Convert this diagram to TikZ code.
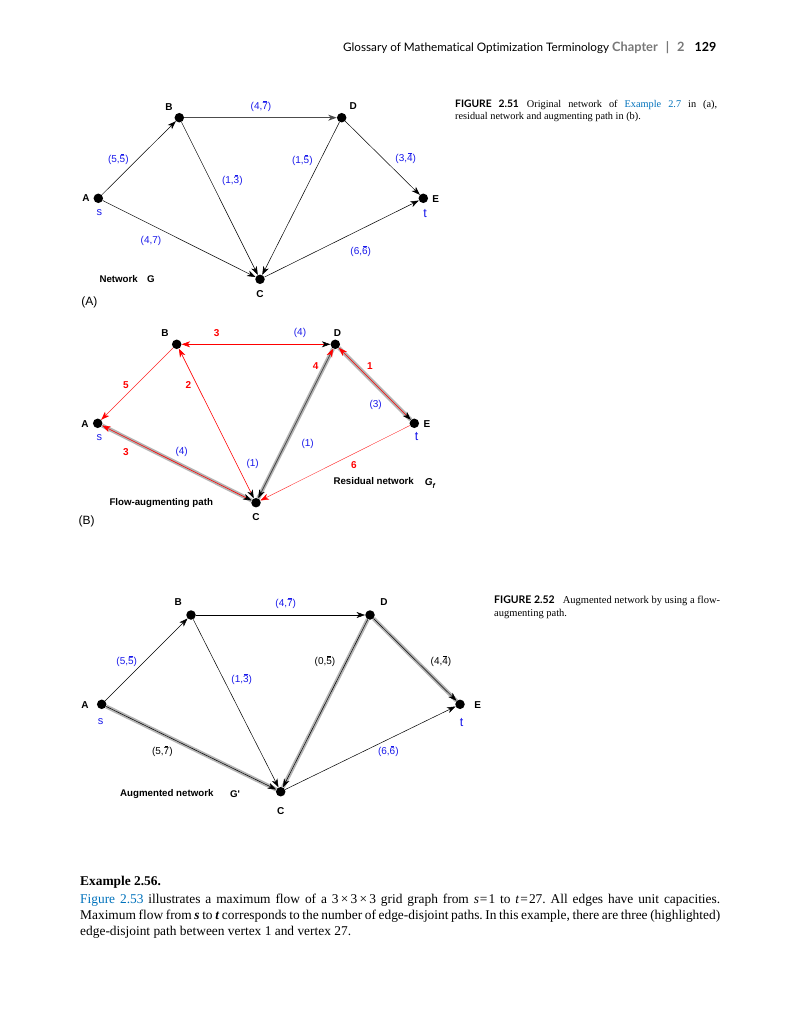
\documentclass[tikz,border=0pt]{standalone}
\usepackage{fontspec}
\setmainfont{Liberation Serif}
\newfontfamily\gsans{Liberation Sans}
\newfontfamily\hfont[Ligatures=NoCommon]{Lato}
\usetikzlibrary{arrows.meta}
\definecolor{linkblue}{RGB}{0,114,188}
\definecolor{lblue}{RGB}{25,25,235}
\definecolor{hlgray}{RGB}{180,180,180}
\definecolor{hdrgray}{RGB}{120,120,120}
\newcommand\ob[1]{\leavevmode\setbox0\hbox{#1}\rlap{\hspace{0.15\wd0}\raisebox{\dimexpr\ht0+1.2pt\relax}{\rule{0.7\wd0}{0.45pt}}}\box0}
\tikzset{
  dot/.style={circle, fill=black, inner sep=0pt, minimum size=9.5pt},
  vlab/.style={font=\gsans\bfseries\fontsize{10}{12}\selectfont, inner sep=0pt},
  elab/.style={font=\gsans\fontsize{10}{12}\selectfont, text=lblue, inner sep=0pt},
  elabk/.style={elab, text=black},
  rlab/.style={font=\gsans\bfseries\fontsize{10}{12}\selectfont, text=red, inner sep=0pt},
  stlab/.style={font=\gsans\fontsize{11}{12}\selectfont, text=lblue, inner sep=0pt},
  ttlab/.style={font=\gsans\fontsize{12.5}{14}\selectfont, text=lblue, inner sep=0pt},
  tlab/.style={font=\gsans\bfseries\fontsize{9.7}{11}\selectfont, inner sep=0pt},
  panel/.style={font=\gsans\fontsize{12}{14}\selectfont, inner sep=0pt},
  edge/.style={draw=black, line width=0.5pt, ->},
  hl/.style={draw=hlgray, line width=4pt},
  redthin/.style={draw=red!85, line width=0.4pt},
  redline/.style={draw=red, line width=0.6pt}
}
\begin{document}
\begin{tikzpicture}[x=1pt,y=-1pt,>={Stealth[length=8.5pt,width=6pt,inset=2.5pt]}]
\useasboundingbox[fill=white] (0,0) rectangle (800,1024);

% ---------- header ----------
\node[anchor=base west, inner sep=0pt, font=\hfont\fontsize{11.7}{13}\selectfont] (hdr) at (343,52)
  {Glossary of Mathematical Optimization Terminology\hspace{3pt}{\color{hdrgray}\fontsize{12.8}{14}\selectfont\bfseries Chapter\hspace{8pt}|\hspace{8pt}2}\hspace{10pt}{\fontsize{12.5}{14}\selectfont\bfseries 129}};

% ---------- captions ----------
\node[anchor=north west, inner sep=0pt, text width=262pt, align=justify, font=\fontsize{10.3}{11.7}\selectfont] (cap1) at (455,100)
  {{\hfont\bfseries FIGURE 2.51}\hspace{8pt}Original network of {\color{linkblue}Example 2.7} in (a),\linebreak residual network and augmenting path in (b).};
\node[anchor=north west, inner sep=0pt, text width=226pt, align=justify, font=\fontsize{10.5}{12.6}\selectfont] (cap2) at (494,596)
  {{\hfont\bfseries FIGURE 2.52}\hspace{8pt}Augmented network by using a flow-\linebreak augmenting path.};

% ---------- body text ----------
\node[anchor=base west, inner sep=0pt, font=\bfseries\fontsize{13.4}{16}\selectfont] (ex) at (80,885.5) {Example 2.56.};
\node[anchor=north west, inner sep=0pt, text width=640pt, align=justify, font=\frenchspacing\fontsize{13.4}{16}\selectfont] (body) at (80,893.5)
  {{\color{linkblue}Figure 2.53} illustrates a maximum flow of a 3\,×\,3\,×\,3 grid graph from \textit{s}\kern1pt=\kern1pt1 to \textit{t}\kern1pt=\kern1pt27. All edges have unit capacities.\linebreak
   Maximum flow from \textbf{\textit{s}} to \textbf{\textit{t}} corresponds to the number of edge-disjoint paths. In this example, there are three (highlighted)\linebreak
   edge-disjoint path between vertex 1 and vertex 27.};

% =============== Graph (A) ===============
\node[dot] (a1) at (98.3,198.3) {};
\node[dot] (b1) at (179.3,117.7) {};
\node[dot] (d1) at (341.7,117.7) {};
\node[dot] (e1) at (423.3,198.3) {};
\node[dot] (c1) at (260,279.3) {};
\draw[edge] (a1) -- (b1);
\draw[edge, draw=black!70, line width=0.9pt] (b1) -- (d1);
\draw[edge] (b1) -- (c1);
\draw[edge] (d1) -- (c1);
\draw[edge] (d1) -- (e1);
\draw[edge] (a1) -- (c1);
\draw[edge] (c1) -- (e1);
\node[vlab] (la1) at (86,198.3) {A};
\node[vlab] (lb1) at (169,106.7) {B};
\node[vlab] (ld1) at (353.3,106) {D};
\node[vlab] (le1) at (435.7,199) {E};
\node[vlab] (lc1) at (260,294) {C};
\node[stlab] (s1) at (99.3,212.5) {s};
\node[ttlab] (t1) at (425,213.5) {t};
\node[elab] (l1bd) at (261,106) {(4,\ob{7})};
\node[elab] (l1ab) at (118.3,159.5) {(5,\ob{5})};
\node[elab] (l1bc) at (232.3,180) {(1,\ob{3})};
\node[elab] (l1dc) at (302.3,160) {(1,\ob{5})};
\node[elab] (l1de) at (405.7,158.5) {(3,\ob{4})};
\node[elab] (l1ac) at (151,241) {(4,7)};
\node[elab] (l1ce) at (360.7,251) {(6,\ob{6})};
\node[tlab, anchor=west] (n1) at (99.3,278.7) {Network};
\node[tlab] (g1) at (150.8,278.7) {G};
\node[panel] (pa) at (89.3,302) {(A)};

% =============== Graph (B) ===============
\node[dot] (a2) at (97.7,423.3) {};
\node[dot] (b2) at (176.7,344.3) {};
\node[dot] (d2) at (335.3,344.3) {};
\node[dot] (e2) at (414.3,423.3) {};
\node[dot] (c2) at (256,502.7) {};
\draw[hl] (a2) -- (c2);
\draw[hl] (c2) -- (d2);
\draw[hl] (d2) -- (e2);
\draw[redline, {Stealth[length=8.5pt,width=6pt,inset=2.5pt,color=red]}-{Stealth[length=8.5pt,width=6pt,inset=2.5pt,color=black]}] (b2) -- (d2);
\draw[redthin, -{Stealth[length=8.5pt,width=6pt,inset=2.5pt,color=red]}] (b2) -- (a2);
\draw[redline, {Stealth[length=8.5pt,width=6pt,inset=2.5pt,color=black]}-{Stealth[length=8.5pt,width=6pt,inset=2.5pt,color=red]}] (c2) -- (b2);
\draw[redline, {Stealth[length=8.5pt,width=6pt,inset=2.5pt,color=black]}-{Stealth[length=8.5pt,width=6pt,inset=2.5pt,color=red]}] (c2) -- (a2);
\draw[draw=black!75, line width=0.7pt, {Stealth[length=8.5pt,width=6pt,inset=2.5pt,color=black]}-{Stealth[length=8.5pt,width=6pt,inset=2.5pt,color=red]}] (c2) -- (d2);
\draw[redline, {Stealth[length=8.5pt,width=6pt,inset=2.5pt,color=black]}-{Stealth[length=8.5pt,width=6pt,inset=2.5pt,color=red]}] (e2) -- (d2);
\draw[redthin, -{Stealth[length=8.5pt,width=6pt,inset=2.5pt,color=red]}] (e2) -- (c2);
\node[vlab] (la2) at (85,424.5) {A};
\node[vlab] (lb2) at (165,333.3) {B};
\node[vlab] (ld2) at (337.5,333.3) {D};
\node[vlab] (le2) at (427,424.5) {E};
\node[vlab] (lc2) at (256,516.7) {C};
\node[stlab] (s2) at (99.3,438) {s};
\node[ttlab] (t2) at (416.7,437) {t};
\node[rlab] (r2bd) at (216.7,333.3) {3};
\node[elab] (f2bd) at (300,333.3) {(4)};
\node[rlab] (r2ba) at (126,385.3) {5};
\node[rlab] (r2bc) at (188.3,385.3) {2};
\node[rlab] (r2cd) at (315.7,365.7) {4};
\node[rlab] (r2de) at (370,365.7) {1};
\node[elab] (f2de) at (375.7,405.3) {(3)};
\node[rlab] (r2ac) at (126,451.7) {3};
\node[elab] (f2ac) at (181.7,451.7) {(4)};
\node[elab] (f2bc) at (252.7,464) {(1)};
\node[elab] (f2cd) at (307.7,444.3) {(1)};
\node[rlab] (r2ec) at (354,465) {6};
\node[tlab] (rn) at (373.7,480.7) {Residual network};
\node[tlab, font=\gsans\bfseries\itshape\fontsize{10}{12}\selectfont] (gf) at (430,483.3) {G\raisebox{-2.5pt}{\fontsize{7}{8}\selectfont f}};
\node[tlab, anchor=west] (fap) at (109.3,502.7) {Flow-augmenting path};
\node[panel] (pb) at (86.7,521.7) {(B)};

% =============== Graph (C) ===============
\node[dot] (a3) at (101.7,704.3) {};
\node[dot] (b3) at (191,615) {};
\node[dot] (d3) at (370,615) {};
\node[dot] (e3) at (460,704.3) {};
\node[dot] (c3) at (280.7,791.7) {};
\draw[hl] (a3) -- (c3);
\draw[hl] (d3) -- (c3);
\draw[hl] (d3) -- (e3);
\draw[edge] (a3) -- (b3);
\draw[edge] (b3) -- (d3);
\draw[edge] (b3) -- (c3);
\draw[edge] (d3) -- (c3);
\draw[edge] (d3) -- (e3);
\draw[edge] (a3) -- (c3);
\draw[edge] (c3) -- (e3);
\node[vlab] (la3) at (85,705) {A};
\node[vlab] (lb3) at (178.3,601.7) {B};
\node[vlab] (ld3) at (384,601.7) {D};
\node[vlab] (le3) at (477.7,705) {E};
\node[vlab] (lc3) at (280.7,810.7) {C};
\node[stlab] (s3) at (100.7,721.7) {s};
\node[ttlab] (t3) at (461.7,722.3) {t};
\node[elab] (l3bd) at (285.7,603.5) {(4,\ob{7})};
\node[elab] (l3ab) at (126.7,661) {(5,\ob{5})};
\node[elab] (l3bc) at (241.7,679.5) {(1,\ob{3})};
\node[elabk] (l3dc) at (325,661) {(0,\ob{5})};
\node[elabk] (l3de) at (441,661) {(4,\ob{4})};
\node[elabk] (l3ac) at (162.3,751) {(5,\ob{7})};
\node[elab] (l3ce) at (388.3,751) {(6,\ob{6})};
\node[tlab, anchor=west] (an) at (120,794) {Augmented network};
\node[tlab] (gp) at (235,794) {G'};
\end{tikzpicture}
\end{document}
